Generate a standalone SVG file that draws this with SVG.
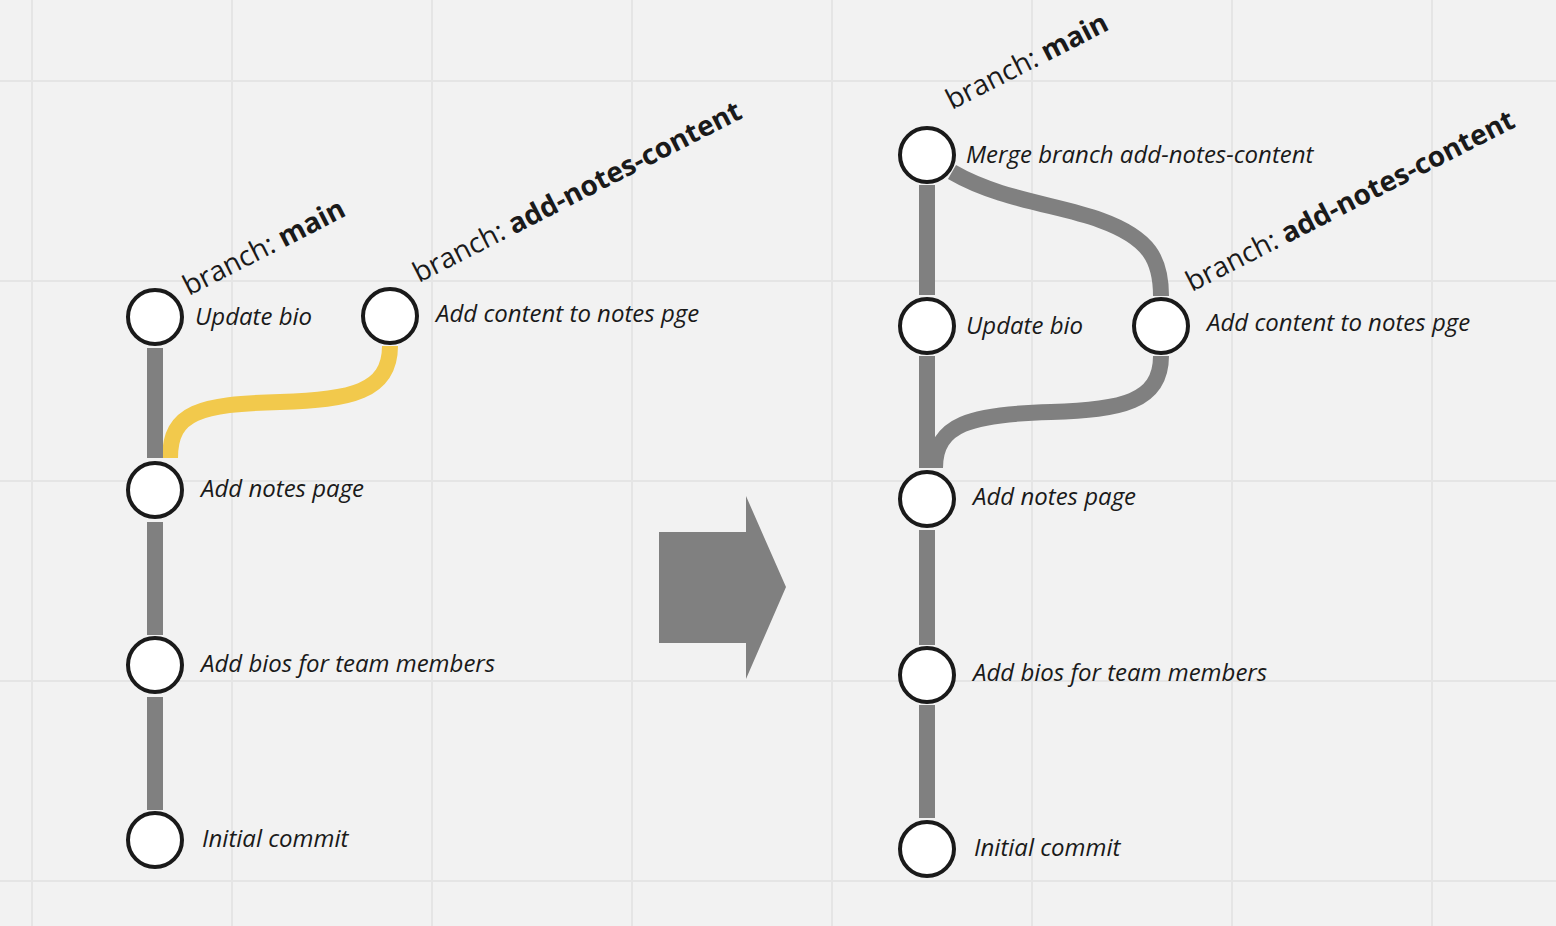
<svg xmlns="http://www.w3.org/2000/svg" width="1556" height="926" viewBox="0 0 1556 926">
<style>
.grid{stroke:#e5e5e5;stroke-width:2}
.bar{stroke:#808080;stroke-width:16;fill:none}
.yel{stroke:#f2c94c;stroke-width:16;fill:none}
.node circle{fill:#ffffff;stroke:#1a1a1a;stroke-width:4}
.lbl{font-family:"Open Sans",sans-serif;font-style:italic;font-size:24px;fill:#1a1a1a}
.br{font-family:"Open Sans",sans-serif;font-size:28px;fill:#1a1a1a}
.br tspan{font-weight:bold}
</style>
<rect width="1556" height="926" fill="#f2f2f2"/>
<g id="grid">
<line class="grid" x1="32" y1="0" x2="32" y2="926"/>
<line class="grid" x1="232" y1="0" x2="232" y2="926"/>
<line class="grid" x1="432" y1="0" x2="432" y2="926"/>
<line class="grid" x1="632" y1="0" x2="632" y2="926"/>
<line class="grid" x1="832" y1="0" x2="832" y2="926"/>
<line class="grid" x1="1032" y1="0" x2="1032" y2="926"/>
<line class="grid" x1="1232" y1="0" x2="1232" y2="926"/>
<line class="grid" x1="1432" y1="0" x2="1432" y2="926"/>
<line class="grid" x1="0" y1="81" x2="1556" y2="81"/>
<line class="grid" x1="0" y1="281" x2="1556" y2="281"/>
<line class="grid" x1="0" y1="481" x2="1556" y2="481"/>
<line class="grid" x1="0" y1="681" x2="1556" y2="681"/>
<line class="grid" x1="0" y1="881" x2="1556" y2="881"/>
</g>
<g id="connectors">
<path class="yel" d="M390,346 C390,392 350,400 280,402 C200,404 170,412 170,458"/>
<line class="bar" x1="155" y1="348" x2="155" y2="458"/>
<line class="bar" x1="155" y1="522" x2="155" y2="635"/>
<line class="bar" x1="155" y1="697" x2="155" y2="810"/>
<path class="bar" d="M952,172 C1000,200 1060,205 1100,220 C1150,238 1161,260 1161,296"/>
<path class="bar" d="M1161,356 C1161,402 1121,410 1051,412 C971,414 935,424 935,468"/>
<line class="bar" x1="927" y1="185" x2="927" y2="295"/>
<line class="bar" x1="927" y1="356" x2="927" y2="468"/>
<line class="bar" x1="927" y1="530" x2="927" y2="645"/>
<line class="bar" x1="927" y1="705" x2="927" y2="818"/>
</g>
<g id="arrow">
<polygon points="659,532 746,532 746,496 786,587 746,679 746,643 659,643" fill="#808080"/>
</g>
<g id="left-labels">
<text class="br" transform="translate(189,296) rotate(-27)">branch: <tspan>main</tspan></text>
<text class="br" transform="translate(419,283) rotate(-27)">branch: <tspan>add-notes-content</tspan></text>
</g>
<g id="l-update-bio" class="node"><circle cx="155" cy="317" r="27"/><text class="lbl" x="195" y="325">Update bio</text></g>
<g id="l-add-content" class="node"><circle cx="390" cy="316" r="27"/><text class="lbl" x="436" y="322">Add content to notes pge</text></g>
<g id="l-add-notes" class="node"><circle cx="155" cy="490" r="27"/><text class="lbl" x="201" y="497">Add notes page</text></g>
<g id="l-add-bios" class="node"><circle cx="155" cy="665" r="27"/><text class="lbl" x="201" y="672">Add bios for team members</text></g>
<g id="l-initial" class="node"><circle cx="155" cy="840" r="27"/><text class="lbl" x="202" y="847">Initial commit</text></g>
<g id="right-labels">
<text class="br" transform="translate(952,110) rotate(-27)">branch: <tspan>main</tspan></text>
<text class="br" transform="translate(1192,292) rotate(-27)">branch: <tspan>add-notes-content</tspan></text>
</g>
<g id="r-merge" class="node"><circle cx="927" cy="155" r="27"/><text class="lbl" x="966" y="163">Merge branch add-notes-content</text></g>
<g id="r-update-bio" class="node"><circle cx="927" cy="326" r="27"/><text class="lbl" x="966" y="334">Update bio</text></g>
<g id="r-add-content" class="node"><circle cx="1161" cy="326" r="27"/><text class="lbl" x="1207" y="331">Add content to notes pge</text></g>
<g id="r-add-notes" class="node"><circle cx="927" cy="499" r="27"/><text class="lbl" x="973" y="505">Add notes page</text></g>
<g id="r-add-bios" class="node"><circle cx="927" cy="675" r="27"/><text class="lbl" x="973" y="681">Add bios for team members</text></g>
<g id="r-initial" class="node"><circle cx="927" cy="849" r="27"/><text class="lbl" x="974" y="856">Initial commit</text></g>
</svg>
